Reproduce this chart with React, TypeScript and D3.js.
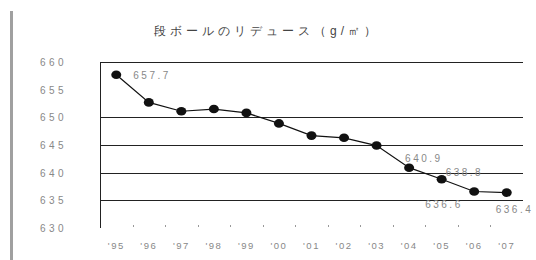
import React from "react";
import * as d3 from "d3";

const years = ["'95", "'96", "'97", "'98", "'99", "'00", "'01", "'02", "'03", "'04", "'05", "'06", "'07"];
const weights = [657.7, 652.7, 651.1, 651.5, 650.8, 648.9, 646.7, 646.3, 644.9, 640.9, 638.8, 636.6, 636.4];
const yTicks = [630, 635, 640, 645, 650, 655, 660];
const gridValues = [635, 640, 645, 650, 660];
// which points carry a value label, and where it sits
const labelled = [
  { i: 0, dx: 17, dy: 4 },
  { i: 9, dx: -4, dy: -6 },
  { i: 10, dx: 4, dy: -3 },
  { i: 11, dx: -49, dy: 17 },
  { i: 12, dx: -11, dy: 20 },
];

const title = "段ボールのリデュース（g/㎡）";

const App = () => {
  const width = 536;
  const height = 260;
  const margin = { top: 62, right: 13, bottom: 32, left: 100 };

  const x = d3
    .scaleBand()
    .domain(years)
    .range([margin.left, width - margin.right]);

  const y = d3
    .scaleLinear()
    .domain([630, 660])
    .range([height - margin.bottom, margin.top]);

  const cx = (i: number) => x(years[i])! + x.bandwidth() / 2;

  const line = d3
    .line<number>()
    .x((_, i) => cx(i))
    .y((d) => y(d));

  const font = "'Liberation Sans', Arial, sans-serif";

  return (
    <svg
      width={width}
      height={height}
      style={{ position: "absolute", left: 0, top: 0, background: "#fff" }}
      fontFamily={font}
    >
      {/* left frame edge */}
      <rect x={10} y={11} width={3} height={height - 11} fill="#a0a0a0" />

      <text x={267} y={35} textAnchor="middle" fontSize={12} letterSpacing={4} fill="#444">
        {title}
      </text>

      {/* gridlines, drawn as 1px rects so they stay crisp */}
      {gridValues.map((v) => (
        <rect
          key={v}
          x={margin.left}
          y={Math.round(y(v))}
          width={width - margin.right - margin.left}
          height={1}
          fill="#222"
        />
      ))}
      <rect
        x={margin.left}
        y={y(660)}
        width={1}
        height={y(630) - y(660)}
        fill="#222"
      />

      {/* y tick labels */}
      {yTicks.map((v) => (
        <text
          key={v}
          x={40}
          y={y(v) + 4}
          textAnchor="start"
          fontSize={10}
          letterSpacing={3.5}
          fill="#888"
        >
          {v}
        </text>
      ))}

      {/* x ticks and labels */}
      {years.map((yr, i) => (
        <g key={yr}>
          {i > 0 && (
            <rect
              x={Math.round(x(yr)!)}
              y={y(630) - 3}
              width={1}
              height={2}
              fill="#999"
            />
          )}
          <text
            x={cx(i)}
            y={249}
            textAnchor="middle"
            fontSize={9.5}
            letterSpacing={1.5}
            fill="#888"
          >
            {yr}
          </text>
        </g>
      ))}

      <path d={line(weights)!} fill="none" stroke="#111" strokeWidth={1.2} />
      {weights.map((v, i) => (
        <ellipse key={i} cx={cx(i)} cy={y(v)} rx={5} ry={4.3} fill="#111" />
      ))}

      {labelled.map((l) => (
        <text
          key={l.i}
          x={cx(l.i) + l.dx}
          y={y(weights[l.i]) + l.dy}
          textAnchor="start"
          fontSize={10}
          letterSpacing={2.5}
          fill="#888"
        >
          {weights[l.i].toFixed(1)}
        </text>
      ))}
    </svg>
  );
};

export default App;
